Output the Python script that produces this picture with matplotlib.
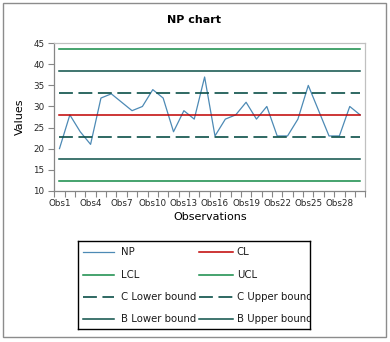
import numpy as np
import matplotlib as mpl
mpl.use("Agg")
import matplotlib.pyplot as plt
from matplotlib.patches import Rectangle


# ===========================================================
# Data
# ===========================================================
obs_labels = [f"Obs{i}" for i in range(1, 31)]
np_values = [20, 28, 24, 21, 32, 33, 31, 29, 30, 34,
             32, 24, 29, 27, 37, 23, 27, 28, 31, 27,
             30, 23, 23, 27, 35, 29, 23, 23, 30, 28]

cl = 27.93
lcl, ucl = 12.30, 43.56
c_lower, c_upper = 22.72, 33.14
b_lower, b_upper = 17.51, 38.35

y_ticks = [10, 15, 20, 25, 30, 35, 40, 45]


# ===========================================================
# Matplotlib setup
# ===========================================================
mpl.rcParams.update({
    "font.family": "DejaVu Sans",
    "lines.scale_dashes": False,
})

c_np = "#4d8ab5"
c_cl = "#c00000"
c_lim = "#138a47"
c_zone = "#0b4f48"
c_text = "#262626"
dash = (0, (10, 4))

fig = plt.figure(figsize=(3.9, 3.42), dpi=100)
fig.patches.append(Rectangle((2.7 / 390, 1 - 336.7 / 342), 383.3 / 390, 333.4 / 342,
                             transform=fig.transFigure, fill=False,
                             edgecolor="#8c8c8c", linewidth=1.0))

ax = fig.add_axes([54.3 / 390, 1 - 190.7 / 342, 311.0 / 390, 147.4 / 342])

x = np.arange(len(obs_labels))
n = len(x)

# (label, values, colour, width, style)
series = [
    ("NP", np_values, c_np, 0.9, "-"),
    ("CL", [cl] * n, c_cl, 1.1, "-"),
    ("LCL", [lcl] * n, c_lim, 1.1, "-"),
    ("UCL", [ucl] * n, c_lim, 1.1, "-"),
    ("C Lower bound", [c_lower] * n, c_zone, 1.2, dash),
    ("C Upper bound", [c_upper] * n, c_zone, 1.2, dash),
    ("B Lower bound", [b_lower] * n, c_zone, 1.1, "-"),
    ("B Upper bound", [b_upper] * n, c_zone, 1.1, "-"),
]

for label, vals, col, lw, ls in series:
    ax.plot(x, vals, color=col, lw=lw, ls=ls, label=label)

ax.set_xlim(-0.5, n - 0.5)
ax.set_ylim(10, 45)
ax.set_yticks(y_ticks)
ax.set_xticks(x[::3])
ax.set_xticklabels(obs_labels[::3])
ax.set_xticks(np.arange(-0.5, n, 1.0), minor=True)

ax.tick_params(axis="x", which="major", length=0, pad=6, labelsize=6.3, colors=c_text)
ax.tick_params(axis="x", which="minor", length=4, width=0.8, color="#868686", bottom=True)
ax.tick_params(axis="y", length=4, width=0.8, color="#868686", labelsize=6.3,
               labelcolor=c_text, pad=3)

for side in ["left", "bottom"]:
    ax.spines[side].set_color("#868686")
    ax.spines[side].set_linewidth(0.9)
for side in ["top", "right"]:
    ax.spines[side].set_color("#c0c0c0")
    ax.spines[side].set_linewidth(0.9)

ax.set_xlabel("Observations", fontsize=8, labelpad=3)
ax.set_ylabel("Values", fontsize=8, labelpad=6)
fig.text(194 / 390, 1 - 20 / 342, "NP chart", ha="center", va="center",
         fontsize=8, fontweight="bold")


# ===========================================================
# Legend box (fixed size, long labels get cut at the frame)
# ===========================================================
lax = fig.add_axes([78.3 / 390, 1 - 329 / 342, 232 / 390, 88 / 342])
lax.set_xlim(0, 232)
lax.set_ylim(88, 0)
lax.set_xticks([])
lax.set_yticks([])
for sp in lax.spines.values():
    sp.set_color("black")
    sp.set_linewidth(1.0)

row_y = [11.3, 34, 56.3, 78.3]
col_x = [(4.4, 36, 42.7), (120.7, 155, 158.4)]
for i, (label, vals, col, lw, ls) in enumerate(series):
    r, c = divmod(i, 2)
    x0, x1, xt = col_x[c]
    lax.plot([x0, x1], [row_y[r], row_y[r]], color=col, lw=lw, ls=ls)
    lax.text(xt, row_y[r], label, va="center", ha="left",
             fontsize=7.3, color="#1a1a1a", clip_on=True)

fig.savefig("out.png", dpi=100)
